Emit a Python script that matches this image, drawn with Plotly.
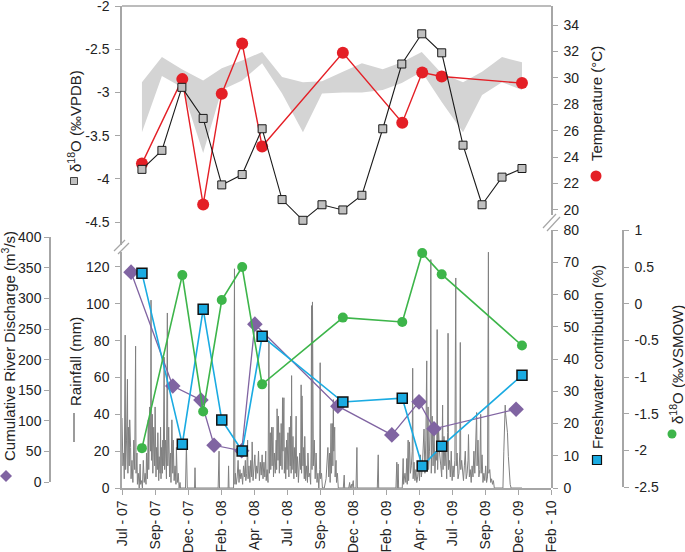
import pandas as pd
import plotly.graph_objects as go

# ---------------- data ----------------
start_date = "2007-07-01"
end_date = "2010-02-01"
x_tick_labels = ["Jul - 07", "Sep- 07", "Dec - 07", "Feb - 08", "Apr - 08", "Jul - 08", "Sep- 08",
                 "Dec - 08", "Feb - 09", "Apr - 09", "Jul - 09", "Sep- 09", "Dec - 09", "Feb - 10"]

# shell (top panel) sampling dates
shell_dates = ["2007-08-14", "2007-09-27", "2007-11-10", "2007-12-27", "2008-02-06", "2008-03-22",
               "2008-05-05", "2008-06-18", "2008-08-03", "2008-09-14", "2008-10-30", "2008-12-11",
               "2009-01-26", "2009-03-09", "2009-04-22", "2009-06-05", "2009-07-22", "2009-09-02",
               "2009-10-16", "2009-11-29"]
shell_d18o = [-3.89, -3.67, -2.94, -3.30, -4.07, -3.95, -3.42, -4.24, -4.48, -4.30,
              -4.36, -4.19, -3.42, -2.67, -2.32, -2.54, -3.61, -4.30, -3.98, -3.88]
band_upper = [-2.88, -2.59, -2.73, -2.86, -2.72, -2.63, -2.53, -2.82, -2.88, -2.87,
              -2.76, -2.66, -2.73, -2.65, -2.53, -2.78, -2.88, -2.76, -2.59, -2.65]
band_lower = [-3.46, -2.81, -2.94, -3.70, -2.97, -2.86, -2.66, -3.01, -3.46, -3.01,
              -3.00, -3.00, -2.97, -2.89, -2.76, -3.11, -3.46, -3.03, -2.88, -2.97]

# water sampling dates
sample_dates = ["2007-08-14", "2007-11-11", "2007-12-27", "2008-02-06", "2008-03-22", "2008-05-05",
                "2008-10-30", "2009-03-10", "2009-04-23", "2009-06-05", "2009-11-29"]
temperature = [23.5, 29.9, 20.4, 28.8, 32.6, 24.8, 31.9, 26.6, 30.4, 30.1, 29.6]
freshwater = [66.7, 13.6, 55.5, 21.1, 11.5, 47.1, 26.7, 27.9, 6.8, 13.0, 35.0]
water_d18o = [-1.97, 0.39, -1.47, 0.05, 0.50, -1.10, -0.19, -0.25, 0.69, 0.40, -0.57]

discharge_dates = ["2007-07-21", "2007-10-21", "2007-12-22", "2008-01-20", "2008-03-21", "2008-04-19",
                   "2008-10-19", "2009-02-15", "2009-04-16", "2009-05-19", "2009-11-16"]
discharge = [343, 157, 134, 60, 51, 258, 124, 77, 131, 87, 119]

# daily rainfall (day index since start_date, mm)
rain_day = [0, 2, 4, 5, 7, 8, 10, 12, 13, 14, 16, 17, 19, 20, 22, 24, 26, 28, 30, 31, 33, 34, 36, 38,
            40, 41, 43, 45, 47, 49, 51, 53, 54, 56, 58, 59, 61, 63, 64, 65, 67, 68, 70, 72, 73, 75,
            76, 78, 79, 81, 82, 84, 85, 86, 87, 89, 90, 91, 93, 94, 96, 98, 100, 101, 103, 105, 107,
            108, 110, 112, 113, 115, 117, 119, 120, 122, 124, 126, 128, 129,
            140, 142, 144, 160, 161, 162, 212, 214, 215, 234, 235, 236, 246, 248, 249,
            250, 252, 254, 256, 258, 260, 262, 264, 266, 268, 270, 272, 273, 275, 277, 278, 280, 282,
            284, 286, 287, 289, 291, 293, 295, 297, 299, 301, 303, 305, 307, 309, 311, 313, 315, 317,
            318, 320, 322, 323, 324, 325, 327, 328, 330, 331, 333, 334, 336, 338, 340, 341, 342, 344,
            345, 347, 348, 350, 351, 353, 354, 355, 357, 358, 360, 361, 363, 364, 366, 368, 369, 371,
            372, 373, 374, 375, 377, 379, 380, 382, 384, 385, 387, 389, 390, 392, 394, 395, 396, 397,
            399, 400, 402, 403, 405, 407, 409, 410, 412, 414, 416, 417, 418, 419, 420, 421, 422, 424,
            426, 428, 430, 432, 434, 436, 437, 438, 440, 442, 446, 450, 452, 454, 456, 458, 459, 461,
            462, 464, 465, 466, 467, 469, 470, 472, 473, 475, 477,
            488, 490, 491, 500, 502, 503, 506, 507, 510, 511, 516, 518, 519, 563, 565, 566, 604, 606,
            607, 609, 610, 618, 620, 621, 624, 626, 628, 629, 631, 632, 634, 636, 638, 640, 641, 642,
            644, 646, 648, 650, 652, 654, 656, 658, 660, 662, 664, 666, 668, 670, 672, 673, 675, 676,
            678, 680, 681, 682, 684, 686, 688, 690, 692, 694, 695, 696, 698, 700, 703, 705, 707, 708,
            710, 712, 714, 716, 718, 719, 720, 722, 724, 726, 728, 730, 732, 734, 736, 737, 739, 741,
            743, 745, 746, 747, 749, 751, 753, 755, 757, 759, 761, 763, 764, 766, 768, 770, 772, 774,
            776, 778, 780, 782, 783, 785, 787, 789, 791, 792, 794, 796, 798, 800, 802, 804, 806, 808,
            809, 811, 813, 815, 817, 819, 821, 840, 842, 844, 845, 846, 848, 850, 852, 854, 856, 858, 882]
rain_mm = [38, 12, 19, 5, 83, 10, 26, 59, 8, 33, 12, 37, 22, 5, 15, 3, 26, 10, 77, 8, 19, 2, 8, 0,
           13, 2, 4, 0, 15, 3, 8, 2, 19, 5, 37, 10, 44, 20, 102, 15, 40, 8, 33, 12, 44, 6,
           22, 10, 30, 4, 17, 8, 33, 5, 22, 8, 26, 12, 71, 10, 26, 5, 95, 12, 33, 6, 19,
           3, 37, 8, 26, 4, 12, 2, 22, 3, 8, 0, 3, 0,
           0, 23, 0, 0, 11, 0, 0, 20, 0, 0, 12, 0, 0, 119, 2,
           8, 2, 6, 15, 3, 10, 5, 8, 2, 12, 6, 15, 4, 8, 26, 5, 12, 3,
           15, 6, 25, 4, 10, 18, 5, 12, 8, 20, 4, 14, 7, 18, 5, 14, 6, 20,
           4, 10, 3, 30, 80, 8, 30, 10, 33, 12, 33, 6, 19, 8, 26, 10, 43, 15,
           39, 8, 30, 12, 35, 10, 49, 20, 49, 8, 22, 5, 26, 10, 30, 6, 33, 12,
           39, 8, 61, 10, 28, 5, 22, 8, 39, 6, 17, 3, 8, 19, 10, 56, 8, 50,
           12, 22, 5, 28, 4, 12, 3, 19, 6, 8, 2, 20, 99, 10, 101, 66, 12, 26,
           5, 19, 3, 8, 0, 10, 68, 5, 8, 0, 0, 5, 12, 22, 6, 19, 3, 35,
           8, 35, 12, 48, 20, 33, 6, 15, 3, 8, 0,
           0, 7, 0, 0, 3, 0, 2, 0, 4, 0, 0, 22, 0, 0, 18, 0, 0, 14,
           0, 13, 0, 0, 16, 2, 8, 3, 16, 2, 26, 4, 25, 8, 12, 20, 65, 5,
           14, 4, 10, 3, 6, 12, 4, 18, 6, 10, 20, 32, 8, 26, 69, 15, 44, 10,
           20, 39, 124, 8, 39, 12, 33, 8, 20, 15, 86, 10, 33, 20, 12, 6, 45, 10,
           28, 12, 20, 5, 30, 84, 10, 15, 6, 20, 4, 12, 6, 15, 114, 12, 19, 5,
           8, 20, 79, 10, 15, 8, 4, 12, 20, 5, 8, 15, 29, 6, 10, 3, 12, 6,
           20, 8, 26, 41, 12, 26, 6, 10, 40, 8, 18, 3, 8, 4, 12, 3, 6, 128,
           8, 10, 3, 5, 2, 4, 0, 0, 20, 37, 45, 40, 33, 30, 17, 8, 2, 0, 0]

vpdb_ticks = [-4.5, -4, -3.5, -3, -2.5, -2]
vpdb_labels = ["-4.5", "-4", "-3.5", "-3", "-2.5", "-2"]
vsmow_ticks = [-2.5, -2, -1.5, -1, -0.5, 0, 0.5, 1]
vsmow_labels = ["-2.5", "-2", "-1.5", "-1", "-0.5", "0", "0.5", "1"]

# ---------------- styling helpers ----------------
W, H = 685, 552
def fx(p):
    return p / W
def fy(p):
    return 1 - p / H

AX = "#a6a6a6"
TXT = "#222222"
FONT = "Liberation Sans, Arial, sans-serif"
RED = "#e41f26"
PURPLE = "#8064a2"
BLUE = "#1aabe2"
GREEN = "#3db54a"

rain_dates = pd.to_datetime(start_date) + pd.to_timedelta(rain_day, unit="D")

fig = go.Figure()
# bottom panel
fig.add_trace(go.Scatter(x=rain_dates, y=rain_mm, mode="lines", yaxis="y",
                         line=dict(color="#808080", width=1), hoverinfo="skip"))
fig.add_trace(go.Scatter(x=discharge_dates, y=discharge, mode="lines+markers", yaxis="y2",
                         line=dict(color=PURPLE, width=1.3),
                         marker=dict(symbol="diamond", size=12, color=PURPLE), cliponaxis=False))
fig.add_trace(go.Scatter(x=sample_dates, y=freshwater, mode="lines+markers", yaxis="y3",
                         line=dict(color=BLUE, width=1.6),
                         marker=dict(symbol="square", size=10, color=BLUE,
                                     line=dict(color="#111111", width=1.5)), cliponaxis=False))
fig.add_trace(go.Scatter(x=sample_dates, y=water_d18o, mode="lines+markers", yaxis="y4",
                         line=dict(color=GREEN, width=1.6),
                         marker=dict(symbol="circle", size=10, color=GREEN), cliponaxis=False))
# top panel
fig.add_trace(go.Scatter(x=shell_dates + shell_dates[::-1], y=band_upper + band_lower[::-1],
                         mode="lines", fill="toself", fillcolor="#d4d4d4", yaxis="y5",
                         line=dict(width=0, color="#d4d4d4"), hoverinfo="skip"))
fig.add_trace(go.Scatter(x=sample_dates, y=temperature, mode="lines+markers", yaxis="y6",
                         line=dict(color=RED, width=1.4),
                         marker=dict(symbol="circle", size=12, color=RED), cliponaxis=False))
fig.add_trace(go.Scatter(x=shell_dates, y=shell_d18o, mode="lines+markers", yaxis="y7",
                         line=dict(color="#1a1a1a", width=1.1),
                         marker=dict(symbol="square", size=8, color="#c0c0c0",
                                     line=dict(color="#1a1a1a", width=1)), cliponaxis=False))

base = dict(showline=True, linecolor=AX, linewidth=1.5, ticks="outside", ticklen=5,
            tickcolor=AX, tickwidth=1, showgrid=False, zeroline=False,
            tickfont=dict(size=14, color=TXT, family=FONT), automargin=False,
            ticklabeloverflow="allow")

tick_positions = pd.date_range(start_date, end_date, periods=len(x_tick_labels))

fig.update_layout(
    width=W, height=H, margin=dict(l=0, r=0, t=0, b=0),
    paper_bgcolor="white", plot_bgcolor="rgba(0,0,0,0)", showlegend=False,
    font=dict(family=FONT, color=TXT, size=14),
    xaxis=dict(base, type="date", domain=[fx(122), fx(551)], range=[start_date, end_date],
               anchor="y", tickvals=list(tick_positions), ticktext=x_tick_labels, tickangle=-90),
    yaxis=dict(base, domain=[fy(488), fy(252)], range=[0, 128.1], dtick=20, anchor="x",
               side="left", ticklabelstandoff=3),
    yaxis2=dict(base, domain=[fy(482), fy(237)], range=[0, 400.5], dtick=50, anchor="free",
                position=fx(50), side="left"),
    yaxis3=dict(base, domain=[fy(488), fy(230)], range=[0, 80.1], dtick=10, anchor="x",
                side="right", ticklabelstandoff=3),
    yaxis4=dict(base, domain=[fy(487), fy(230)], range=[-2.5, 1.005], tickvals=vsmow_ticks,
                ticktext=vsmow_labels, anchor="free", position=fx(623), side="right",
                ticklabelstandoff=3),
    yaxis5=dict(domain=[fy(245), fy(6)], range=[-4.766, -1.998], visible=False, anchor="x"),
    yaxis6=dict(base, domain=[fy(215), fy(6)], range=[19.606, 35.44], dtick=2, anchor="x",
                side="right", ticklabelstandoff=3),
    yaxis7=dict(base, domain=[fy(245), fy(6)], range=[-4.766, -1.998], tickvals=vpdb_ticks,
                ticktext=vpdb_labels, anchor="x", side="left", ticklabelstandoff=3),
)

shapes = [
    # top frame line
    dict(type="line", xref="paper", yref="paper", x0=fx(122), x1=fx(551), y0=fy(6), y1=fy(6),
         line=dict(color=AX, width=1.5)),
    # axis breaks
    dict(type="line", xref="paper", yref="paper", x0=fx(114), y0=fy(251), x1=fx(125), y1=fy(240),
         line=dict(color=AX, width=1.2)),
    dict(type="line", xref="paper", yref="paper", x0=fx(118), y0=fy(254), x1=fx(129), y1=fy(243),
         line=dict(color=AX, width=1.2)),
    dict(type="line", xref="paper", yref="paper", x0=fx(543), y0=fy(228), x1=fx(556), y1=fy(214),
         line=dict(color=AX, width=1.2)),
    dict(type="line", xref="paper", yref="paper", x0=fx(547), y0=fy(231), x1=fx(560), y1=fy(217),
         line=dict(color=AX, width=1.2)),
    # legend marks in titles
    dict(type="path", xref="paper", yref="paper",
         path="M {a},{b} L {c},{d} L {a},{e} L {f},{d} Z".format(
             a=fx(6), b=fy(470), c=fx(12), d=fy(476), e=fy(482), f=fx(0)),
         fillcolor=PURPLE, line=dict(width=0)),
    dict(type="line", xref="paper", yref="paper", x0=fx(74), x1=fx(74), y0=fy(413), y1=fy(442),
         line=dict(color="#7a7a7a", width=1.5)),
    dict(type="rect", xref="paper", yref="paper", x0=fx(70.5), x1=fx(77.5), y0=fy(184.5),
         y1=fy(177.5), fillcolor="#c0c0c0", line=dict(color="#1a1a1a", width=0.8)),
    dict(type="circle", xref="paper", yref="paper", x0=fx(590.5), x1=fx(601.5), y0=fy(181.5),
         y1=fy(170.5), fillcolor=RED, line=dict(width=0)),
    dict(type="rect", xref="paper", yref="paper", x0=fx(592.5), x1=fx(601.5), y0=fy(464.5),
         y1=fy(455.5), fillcolor=BLUE, line=dict(color="#111111", width=1.2)),
    dict(type="circle", xref="paper", yref="paper", x0=fx(667.5), x1=fx(676.5), y0=fy(438.5),
         y1=fy(429.5), fillcolor=GREEN, line=dict(width=0)),
]
fig.update_layout(shapes=shapes)

def title(text, x, y):
    return dict(text=text, x=fx(x), y=fy(y), xref="paper", yref="paper", showarrow=False,
                textangle=-90, xanchor="center", yanchor="middle",
                font=dict(size=15, color=TXT, family=FONT))

fig.update_layout(annotations=[
    title("Cumulative River Discharge (m<sup>3</sup>/s)", 8, 346),
    title("Rainfall (mm)", 75, 362),
    title("δ<sup>18</sup>O (‰VPDB)", 75, 121),
    title("Temperature (°C)", 597, 104),
    title("Freshwater contribution (%)", 597, 357),
    title("δ<sup>18</sup>O (‰VSMOW)", 676, 365),
])

fig.write_html("out.html", config={"displayModeBar": False},
               post_script="document.body.style.margin='0';document.body.style.overflow='hidden';")
